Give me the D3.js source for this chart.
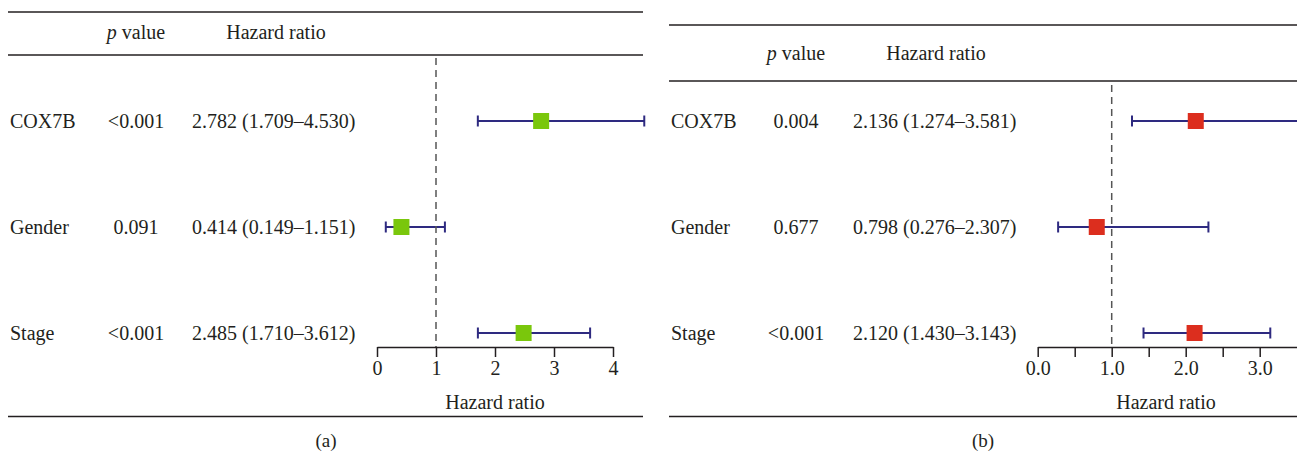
<!DOCTYPE html>
<html>
<head>
<meta charset="utf-8">
<script src="https://cdn.jsdelivr.net/npm/d3@7"></script>
<style>
  body { margin: 0; background: #fff; }
  text { font-family: "Liberation Serif", "DejaVu Serif", serif; fill: #231f20; }
</style>
</head>
<body>
<svg id="svg1"></svg>
<script>
const width = 1297;
const height = 453;

// data
const variables = ["COX7B", "Gender", "Stage"];
const pValuesA = ["<0.001", "0.091", "<0.001"];
const hrA = [2.782, 0.414, 2.485];
const lowerA = [1.709, 0.149, 1.710];
const upperA = [4.530, 1.151, 3.612];
const pValuesB = ["0.004", "0.677", "<0.001"];
const hrB = [2.136, 0.798, 2.120];
const lowerB = [1.274, 0.276, 1.430];
const upperB = [3.581, 2.307, 3.143];
const ticksA = [0, 1, 2, 3, 4];
const ticksB = [0, 0.5, 1, 1.5, 2, 2.5, 3];
const labelsB = [0, 1, 2, 3];

const svg = d3.select("#svg1")
  .attr("width", width)
  .attr("height", height);

const fmt = d3.format(".3f");
const fs = "20px";

function forest(cfg) {
  const g = svg.append("g");
  const rows = variables.map((v, i) => ({
    name: v, p: cfg.p[i], hr: cfg.hr[i], lo: cfg.lo[i], hi: cfg.hi[i]
  }));

  const x = d3.scaleLinear().domain(cfg.domain).range(cfg.range);
  const y = d3.scalePoint().domain(variables).range([121, 333]);

  // horizontal rules
  [cfg.topLine, cfg.headLine, 416.5].forEach((ly) => {
    g.append("line")
      .attr("x1", cfg.left).attr("x2", cfg.right)
      .attr("y1", ly).attr("y2", ly)
      .attr("stroke", "#231f20").attr("stroke-width", 1.4);
  });

  // header
  const head = g.append("text")
    .attr("x", cfg.pCol).attr("y", cfg.headY)
    .attr("text-anchor", "middle").attr("font-size", fs);
  head.append("tspan").attr("font-style", "italic").text("p");
  head.append("tspan").text(" value");
  g.append("text")
    .attr("x", cfg.hrHead).attr("y", cfg.headY)
    .attr("text-anchor", "middle").attr("font-size", fs)
    .text("Hazard ratio");

  // table columns
  const row = g.selectAll(".row")
    .data(rows)
    .join("g")
    .attr("transform", (d) => "translate(0," + y(d.name) + ")");
  row.append("text")
    .attr("x", cfg.left + 2).attr("dy", "0.35em")
    .attr("font-size", fs)
    .text((d) => d.name);
  row.append("text")
    .attr("x", cfg.pCol).attr("dy", "0.35em")
    .attr("text-anchor", "middle").attr("font-size", fs)
    .text((d) => d.p);
  row.append("text")
    .attr("x", cfg.hrCol).attr("dy", "0.35em")
    .attr("font-size", fs)
    .text((d) => fmt(d.hr) + " (" + fmt(d.lo) + "\u2013" + fmt(d.hi) + ")");

  // reference line at HR = 1
  g.append("line")
    .attr("x1", x(1)).attr("x2", x(1))
    .attr("y1", cfg.dashTop).attr("y2", 347)
    .attr("stroke", "#555").attr("stroke-width", 1.5)
    .attr("stroke-dasharray", "7,5");

  // confidence intervals
  row.append("line")
    .attr("x1", (d) => x(d.lo)).attr("x2", (d) => x(d.hi))
    .attr("stroke", "#2e2a80").attr("stroke-width", 2);
  row.selectAll(".cap")
    .data((d) => [d.lo, d.hi])
    .join("line")
    .attr("x1", (v) => x(v)).attr("x2", (v) => x(v))
    .attr("y1", -5.5).attr("y2", 5.5)
    .attr("stroke", "#2e2a80").attr("stroke-width", 2);
  row.append("rect")
    .attr("x", (d) => x(d.hr) - 8).attr("y", -8)
    .attr("width", 16).attr("height", 16)
    .attr("fill", cfg.color);

  // axis
  const axis = d3.axisBottom(x)
    .tickValues(cfg.ticks)
    .tickSize(10)
    .tickSizeOuter(0)
    .tickPadding(4)
    .tickFormat(cfg.tickFormat);
  const ax = g.append("g")
    .attr("transform", "translate(0,347)")
    .call(axis);
  ax.select(".domain").attr("stroke", "#231f20").attr("stroke-width", 1.5);
  ax.selectAll(".tick line").attr("stroke", "#231f20").attr("stroke-width", 1.5);
  ax.selectAll(".tick text")
    .attr("font-family", "Liberation Serif, serif")
    .attr("font-size", fs).attr("fill", "#231f20");

  g.append("text")
    .attr("x", cfg.titleX).attr("y", 409)
    .attr("text-anchor", "middle").attr("font-size", fs)
    .text("Hazard ratio");

  g.append("text")
    .attr("x", cfg.captionX).attr("y", 447)
    .attr("text-anchor", "middle").attr("font-size", "19px")
    .text(cfg.caption);
}

forest({
  p: pValuesA, hr: hrA, lo: lowerA, hi: upperA,
  domain: [0, 4], range: [377, 613],
  ticks: ticksA, tickFormat: d3.format("d"),
  left: 8, right: 643, topLine: 12, headLine: 55, headY: 39, dashTop: 58,
  pCol: 136, hrHead: 276, hrCol: 192,
  titleX: 495, captionX: 326, caption: "(a)",
  color: "#7ac70c"
});

forest({
  p: pValuesB, hr: hrB, lo: lowerB, hi: upperB,
  domain: [0, 3.5], range: [1037.7, 1296.7],
  ticks: ticksB, tickFormat: (d) => labelsB.includes(d) ? d3.format(".1f")(d) : "",
  left: 669, right: 1297, topLine: 25, headLine: 81, headY: 60, dashTop: 85,
  pCol: 796, hrHead: 936, hrCol: 853,
  titleX: 1166, captionX: 983, caption: "(b)",
  color: "#dc2e1e"
});
</script>
</body>
</html>
